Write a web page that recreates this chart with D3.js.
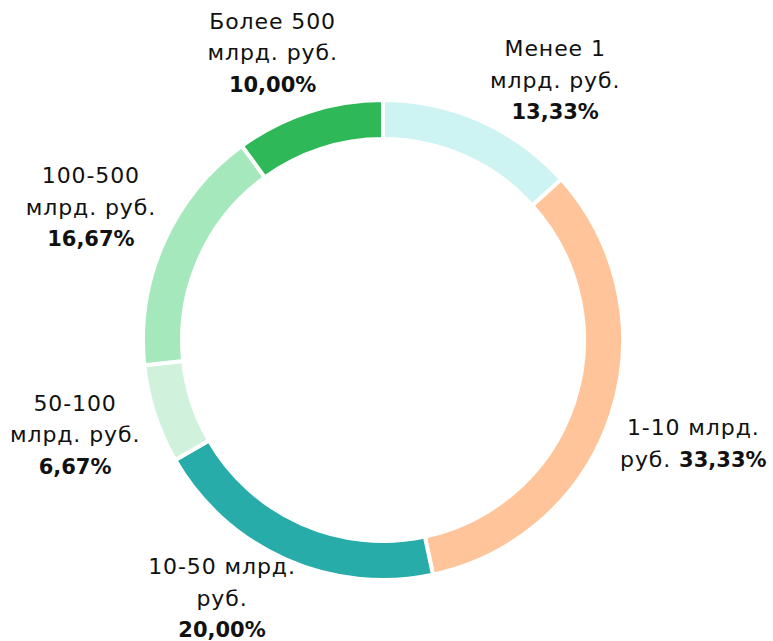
<!DOCTYPE html>
<html>
<head>
<meta charset="utf-8">
<script src="https://cdn.jsdelivr.net/npm/d3@7"></script>
<style>
  body { margin: 0; background: #fff; }
  text { font-family: "DejaVu Sans", sans-serif; fill: #111; }
</style>
</head>
<body>
<svg id="chart" width="773" height="641"></svg>
<script>
// categories (clockwise from 12 o'clock) and their shares, %
var categories = ["Менее 1 млрд. руб.", "1-10 млрд. руб.", "10-50 млрд. руб.", "50-100 млрд. руб.", "100-500 млрд. руб.", "Более 500 млрд. руб."];
var shares = [13.33, 33.33, 20.00, 6.67, 16.67, 10.00];
var shareLabels = ["13,33%", "33,33%", "20,00%", "6,67%", "16,67%", "10,00%"];
// how each label is broken into lines; "" means the % gets its own line
var labelLines = [
    ["Менее 1", "млрд. руб.", ""],
    ["1-10 млрд.", "руб. "],
    ["10-50 млрд.", "руб.", ""],
    ["50-100", "млрд. руб.", ""],
    ["100-500", "млрд. руб.", ""],
    ["Более 500", "млрд. руб.", ""]
];
var colors = ["#cdf3f3", "#ffc499", "#27aca9", "#d0f2dc", "#a5e8bb", "#2eb858"];

var width = 773,
    height = 641,
    cx = 383,
    cy = 340,
    outer = 240,
    inner = 201;

var svg = d3.select("#chart");

var pie = d3.pie().sort(null).value(function (d) { return d; });
var arcs = pie(shares);

var arc = d3.arc().innerRadius(inner).outerRadius(outer);

var g = svg.append("g").attr("transform", "translate(" + cx + "," + cy + ")");

g.selectAll("path")
    .data(arcs)
    .enter().append("path")
    .attr("d", arc)
    .attr("fill", function (d, i) { return colors[i]; })
    .attr("stroke", "#fff")
    .attr("stroke-width", 4);

// label placement: around the mid angle, nudged a bit like the original
var angleShift = [9.5, 0.4, 8, 1, 0.5, -3];
var labelRadius = [312, 327, 304, 322, 321, 308];
var lineH = 31.5;

arcs.forEach(function (d, i) {
    var a = (d.startAngle + d.endAngle) / 2 + angleShift[i] * Math.PI / 180;
    var x = Math.sin(a) * labelRadius[i],
        y = -Math.cos(a) * labelRadius[i];
    var lines = labelLines[i];
    var y0 = y - (lines.length - 1) * lineH / 2;
    var t = g.append("text")
        .attr("text-anchor", "middle")
        .attr("font-size", 22);
    lines.forEach(function (ln, j) {
        var last = j == lines.length - 1;
        if (ln !== "") {
            t.append("tspan")
                .attr("x", x)
                .attr("y", y0 + j * lineH + 8)
                .attr("letter-spacing", 0.9)
                .text(ln);
        }
        if (last) {
            var b = t.append("tspan")
                .attr("font-weight", "bold")
                .attr("font-size", 21)
                .text(shareLabels[i]);
            if (ln === "") b.attr("x", x).attr("y", y0 + j * lineH + 8);
        }
    });
});
</script>
</body>
</html>
